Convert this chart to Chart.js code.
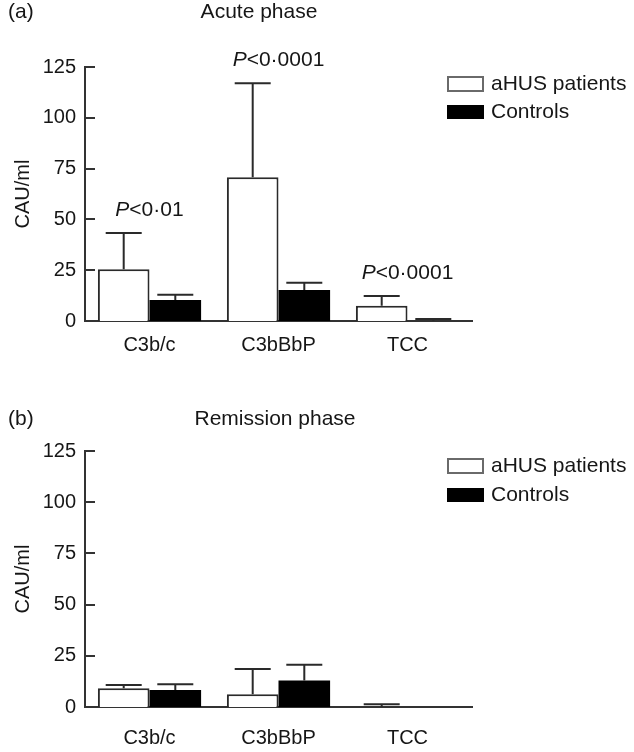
<!DOCTYPE html>
<html lang="en">
<head>
<meta charset="UTF-8">
<title>Complement activation in aHUS</title>
<script src="https://cdn.jsdelivr.net/npm/chart.js"></script>
<style>
    body { margin: 0; background: #fff; }
    .panel { position: absolute; left: 0; width: 634px; height: 376px; }
    #panelA { top: 0; }
    #panelB { top: 376px; }
</style>
</head>
<body>
<div class="panel" id="panelA"><canvas id="acute"></canvas></div>
<div class="panel" id="panelB"><canvas id="remission"></canvas></div>

<script>
const categories = ['C3b/c', 'C3bBbP', 'TCC'];
const seriesNames = ['aHUS patients', 'Controls'];
const yTicks = [0, 25, 50, 75, 100, 125];

// (a) acute phase, mean and upper error (SD)
const acutePatients = [25.5, 70.8, 7.5];
const acutePatientsErr = [17.8, 46.2, 4.8];
const acuteControls = [10.3, 15.2, 0];
const acuteControlsErr = [2.6, 3.6, 1.0];
const acutePValues = ['<0·01', '<0·0001', '<0·0001'];

// (b) remission phase
const remissionPatients = [9.2, 6.2, 0];
const remissionPatientsErr = [1.6, 12.4, 1.3];
const remissionControls = [8.3, 12.9, 0];
const remissionControlsErr = [2.8, 7.7, 0];

const FONT = '"Liberation Sans", Arial, sans-serif';
const INK = '#161616';

// error bars, inward ticks, titles, legend and p-values
const decorPlugin = {
    id: 'decor',
    afterDatasetsDraw(chart, args, opts) {
        const ctx = chart.ctx;
        const yScale = chart.scales.y;
        const xScale = chart.scales.x;
        const area = chart.chartArea;
        ctx.save();

        // tick marks point into the plot
        ctx.strokeStyle = '#333';
        ctx.lineWidth = 2;
        yTicks.forEach(v => {
            const ty = Math.round(yScale.getPixelForValue(v));
            ctx.beginPath();
            ctx.moveTo(area.left, ty);
            ctx.lineTo(area.left + 10, ty);
            ctx.stroke();
        });

        // upper error bars
        ctx.strokeStyle = '#2a2a2a';
        chart.data.datasets.forEach((ds, di) => {
            const meta = chart.getDatasetMeta(di);
            meta.data.forEach((bar, i) => {
                const err = ds.errors[i];
                if (!err) return;
                const top = yScale.getPixelForValue(ds.data[i] + err);
                ctx.beginPath();
                ctx.moveTo(bar.x, bar.y);
                ctx.lineTo(bar.x, top);
                ctx.moveTo(bar.x - 18, top);
                ctx.lineTo(bar.x + 18, top);
                ctx.stroke();
            });
        });

        ctx.fillStyle = INK;
        ctx.textBaseline = 'middle';

        // panel letter and title
        ctx.font = '21px ' + FONT;
        ctx.textAlign = 'left';
        ctx.fillText(opts.letter, 8, opts.titleY);
        ctx.textAlign = 'center';
        ctx.fillText(opts.title, opts.titleX, opts.titleY);

        // p-values above the patient bars
        (opts.pValues || []).forEach((p, i) => {
            const ds = chart.data.datasets[0];
            const cx = xScale.getPixelForValue(i);
            const cy = yScale.getPixelForValue(ds.data[i] + ds.errors[i]) - 23;
            ctx.textAlign = 'left';
            ctx.font = 'italic 21px ' + FONT;
            const wP = ctx.measureText('P').width;
            ctx.font = '21px ' + FONT;
            const wRest = ctx.measureText(p).width;
            const x0 = cx - (wP + wRest) / 2;
            ctx.font = 'italic 21px ' + FONT;
            ctx.fillText('P', x0, cy);
            ctx.font = '21px ' + FONT;
            ctx.fillText(p, x0 + wP, cy);
        });

        // legend
        ctx.font = '21px ' + FONT;
        ctx.textAlign = 'left';
        chart.data.datasets.forEach((ds, di) => {
            const top = opts.legendTops[di];
            if (di === 0) {
                ctx.fillStyle = '#fff';
                ctx.fillRect(448, top, 35, 14);
                ctx.strokeStyle = '#6a6a6a';
                ctx.lineWidth = 2;
                ctx.strokeRect(448, top, 35, 14);
            } else {
                ctx.fillStyle = '#000';
                ctx.fillRect(447, top, 37, 14);
            }
            ctx.fillStyle = INK;
            ctx.fillText(ds.label, 491, top + 7.5);
        });

        ctx.restore();
    }
};

function makePanel(canvasId, p) {
    return new Chart(document.getElementById(canvasId), {
        type: 'bar',
        data: {
            labels: categories,
            datasets: [
                {
                    label: seriesNames[0],
                    data: p.patients,
                    errors: p.patientsErr,
                    backgroundColor: '#ffffff',
                    borderColor: '#2a2a2a',
                    borderWidth: 2,
                    borderSkipped: 'bottom'
                },
                {
                    label: seriesNames[1],
                    data: p.controls,
                    errors: p.controlsErr,
                    backgroundColor: '#000000',
                    borderWidth: 0
                }
            ]
        },
        options: {
            responsive: true,
            maintainAspectRatio: false,
            animation: false,
            layout: { padding: { left: 0, right: 162, top: p.top, bottom: 0 } },
            datasets: { bar: { categoryPercentage: 0.8, barPercentage: 1.0 } },
            plugins: {
                legend: { display: false },
                tooltip: { enabled: false },
                decor: {
                    letter: p.letter,
                    title: p.title,
                    titleX: p.titleX,
                    titleY: p.titleY,
                    legendTops: p.legendTops,
                    pValues: p.pValues
                }
            },
            scales: {
                x: {
                    grid: { display: false, drawTicks: false },
                    border: { display: true, color: '#333', width: 2 },
                    ticks: { color: INK, font: { family: FONT, size: 20 }, padding: p.xPad },
                    afterFit: s => { s.height = p.xHeight; }
                },
                y: {
                    min: 0,
                    max: 125,
                    afterBuildTicks: s => { s.ticks = yTicks.map(v => ({ value: v })); },
                    grid: { display: false, drawTicks: false },
                    border: { display: true, color: '#333', width: 2 },
                    ticks: { color: INK, font: { family: FONT, size: 20 }, padding: 9 },
                    title: {
                        display: true,
                        text: 'CAU/ml',
                        color: INK,
                        font: { family: FONT, size: 20 },
                        padding: { top: 11, bottom: 0 }
                    },
                    afterFit: s => { s.width = 85; }
                }
            }
        },
        plugins: [decorPlugin]
    });
}

makePanel('acute', {
    patients: acutePatients, patientsErr: acutePatientsErr,
    controls: acuteControls, controlsErr: acuteControlsErr,
    pValues: acutePValues,
    letter: '(a)', title: 'Acute phase', titleX: 259, titleY: 12,
    legendTops: [77, 105],
    top: 67, xHeight: 55, xPad: 12
});

makePanel('remission', {
    patients: remissionPatients, patientsErr: remissionPatientsErr,
    controls: remissionControls, controlsErr: remissionControlsErr,
    pValues: [],
    letter: '(b)', title: 'Remission phase', titleX: 275, titleY: 43,
    legendTops: [83, 112],
    top: 75, xHeight: 45, xPad: 19
});
</script>
</body>
</html>
